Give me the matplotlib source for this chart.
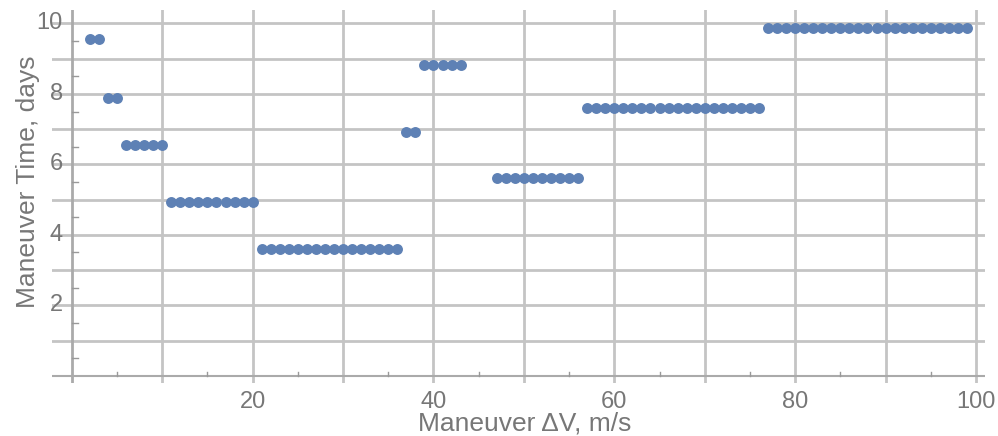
import numpy as np
import matplotlib
matplotlib.use("Agg")
import matplotlib.pyplot as plt

# Maneuver delta-V (m/s) grouped by the maneuver time (days) they map to
group_dv_start = [2, 4, 6, 11, 21, 37, 39, 47, 57, 77]
group_dv_end = [3, 5, 10, 20, 36, 38, 43, 56, 76, 99]
group_time = [9.55, 7.87, 6.54, 4.92, 3.60, 6.92, 8.83, 5.60, 7.59, 9.88]

dv = []
t = []
for a, b, val in zip(group_dv_start, group_dv_end, group_time):
    for x in range(a, b + 1):
        dv.append(x)
        t.append(val)

x_labels = [20, 40, 60, 80, 100]
y_labels = [2, 4, 6, 8, 10]

plt.rcParams["font.family"] = ["Liberation Sans", "DejaVu Sans"]
grey = "#777777"
grid = "#c4c4c4"

fig = plt.figure(figsize=(9.98, 4.36), dpi=100)
ax = fig.add_axes([0.052, 0.122, 0.935, 0.855])
for s in ax.spines.values():
    s.set_visible(False)

ax.set_xlim(-2.2, 101)
ax.set_ylim(-0.2, 10.38)

# grid every 10 in x, every 1 in y
for gx in range(10, 101, 10):
    ax.axvline(gx, color=grid, lw=2, zorder=0)
for gy in range(1, 11):
    ax.axhline(gy, color=grid, lw=2, zorder=0)
ax.axhline(0, color="#aaaaaa", lw=1.5, zorder=1)
ax.axvline(0, color="#aaaaaa", lw=2, zorder=1)

# minor ticks drawn as short marks on the axes
for mx in range(5, 100, 10):
    ax.plot([mx, mx], [0, 0.12], color="#999999", lw=1, zorder=1)
for my in np.arange(0.5, 10, 1.0):
    ax.plot([0, 0.7], [my, my], color="#999999", lw=1, zorder=1)

ax.scatter(dv, t, s=62, color="#5e81b5", zorder=3, linewidths=0)

# x tick labels via the axis, y tick labels sit next to the x=0 axis line
ax.set_xticks(x_labels)
ax.set_xticklabels([str(v) for v in x_labels])
ax.set_yticks([])
ax.tick_params(axis="x", length=0, labelsize=17, colors=grey, pad=6)
for v in y_labels:
    ax.text(-1.0, v, str(v), ha="right", va="center", fontsize=17, color=grey)

fig.text(525 / 998, 1 - 423 / 436, "Maneuver ΔV, m/s", fontsize=19, color=grey,
         ha="center", va="center")
fig.text(28 / 998, 1 - 182 / 436, "Maneuver Time, days", fontsize=19, color=grey,
         ha="center", va="center", rotation=90)

fig.savefig("out.png", dpi=100)
